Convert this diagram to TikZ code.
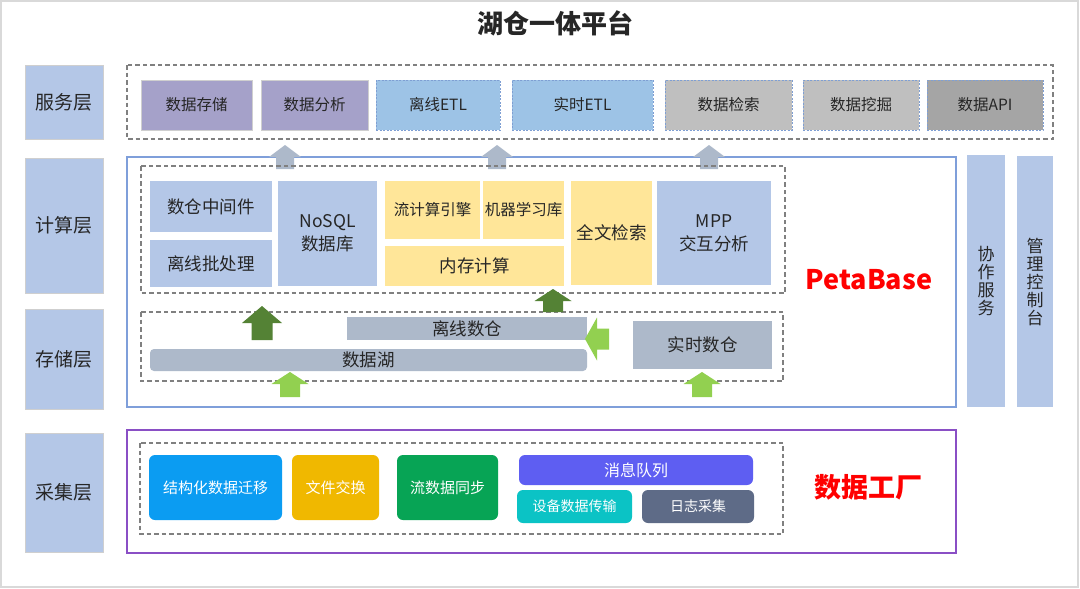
\documentclass[tikz,border=0pt]{standalone}
\usepackage{fontspec}
\setmainfont{Noto Sans CJK SC}
\usetikzlibrary{positioning}
\definecolor{layerblue}{HTML}{B4C7E7}
\definecolor{layerline}{HTML}{CFCFCF}
\definecolor{framegray}{HTML}{808080}
\definecolor{outergray}{HTML}{D9D9D9}
\definecolor{textdark}{HTML}{262626}
\definecolor{svcpurple}{HTML}{A5A1C9}
\definecolor{etlblue}{HTML}{9DC3E6}
\definecolor{srchgray}{HTML}{BFBFBF}
\definecolor{apigray}{HTML}{A5A5A5}
\definecolor{dashblue}{HTML}{7F9FD3}
\definecolor{memyellow}{HTML}{FFE699}
\definecolor{storegray}{HTML}{ADB9CA}
\definecolor{petablue}{HTML}{7F9FDA}
\definecolor{factpurple}{HTML}{8A4FC5}
\definecolor{darkgreen}{HTML}{548235}
\definecolor{litegreen}{HTML}{92D050}
\definecolor{migblue}{HTML}{0B9CF2}
\definecolor{filegold}{HTML}{F0B800}
\definecolor{streamgreen}{HTML}{07A455}
\definecolor{mqviolet}{HTML}{5E5EF2}
\definecolor{devteal}{HTML}{0BC3C5}
\definecolor{logslate}{HTML}{5E6B87}
\tikzset{box/.style={rectangle,inner sep=0pt,align=center,text=textdark,
                     font=\fontsize{17.5}{23}\selectfont},
         layer/.style={box,fill=layerblue,draw=layerline,line width=0.8pt,
                     minimum width=78pt,font=\fontsize{19}{21}\selectfont},
         svc/.style={box,minimum height=50pt,font=\fontsize{15.5}{17}\selectfont},
         svcsolid/.style={svc,fill=svcpurple,draw=layerline,line width=0.8pt},
         svcdash/.style={svc,draw=dashblue,line width=0.8pt,dashed,
                     dash pattern=on 2pt off 1.5pt},
         comp/.style={box,fill=layerblue},
         mem/.style={box,fill=memyellow},
         store/.style={box,fill=storegray},
         side/.style={box,fill=layerblue,font=\fontsize{17}{18}\selectfont},
         coll/.style={box,rounded corners=6pt,text=white,
                     font=\fontsize{15}{17}\selectfont},
         dashframe/.style={draw=framegray,line width=1.1pt,dashed,
                     dash pattern=on 4.5pt off 3pt},
         brand/.style={text=red,font=\fontsize{27}{30}\selectfont\bfseries},
         pics/blockup/.style args={#1/#2/#3/#4}{code={
             \path[pic actions] (-#1,0) -- (0,-#2) -- (#1,0) -- (#3,0)
                 -- (#3,#4) -- (-#3,#4) -- (-#3,0) -- cycle;}}}

\begin{document}
\begin{tikzpicture}[x=1pt,y=-1pt]
\useasboundingbox (0,0) rectangle (1080,589);
\fill[white] (0,0) rectangle (1080,589);
\draw[outergray,line width=1.5pt] (1,1) rectangle (1078,587);

% title
\node[text=textdark,font=\fontsize{26}{28}\selectfont\bfseries] (title) at (555,23) {湖仓一体平台};

% layer labels
\node[layer,minimum height=74pt]  (svcL) at (64,102)   {服务层};
\node[layer,minimum height=135pt] (cmpL) at (64,225.5) {计算层};
\node[layer,minimum height=100pt] (stoL) at (64,359)   {存储层};
\node[layer,minimum height=119pt] (colL) at (64,492.5) {采集层};

% service layer
\draw[dashframe] (127,65) rectangle (1053,139);
\node[svcsolid,minimum width=111pt] (store)   at (196.5,105) {数据存储};
\node[svcsolid,minimum width=107pt] (analyse) at (314.5,105) {数据分析};
\node[svcdash,fill=etlblue,minimum width=124pt]  (offetl) at (438,105)   {离线ETL};
\node[svcdash,fill=etlblue,minimum width=141pt]  (rtetl)  at (582.5,105) {实时ETL};
\node[svcdash,fill=srchgray,minimum width=127pt] (search) at (728.5,105) {数据检索};
\node[svcdash,fill=srchgray,minimum width=116pt] (mining) at (861,105)   {数据挖掘};
\node[svcdash,fill=apigray,minimum width=116pt]  (api)    at (985,105)   {数据API};

% PetaBase
\draw[petablue,line width=1.2pt] (127,157) rectangle (956,407);
\pic[fill=storegray] (upA) at (285,157) {blockup={16/12/9/12}};
\pic[fill=storegray] (upB) at (497,157) {blockup={16/12/9/12}};
\pic[fill=storegray] (upC) at (709,157) {blockup={16/12/9/12}};
\draw[dashframe] (141,166) rectangle (785,293);
\node[comp,minimum width=122pt,minimum height=51pt]  (dwmid)  at (211,206.5)   {数仓中间件};
\node[comp,minimum width=122pt,minimum height=47pt]  (batch)  at (211,263.5)   {离线批处理};
\node[comp,minimum width=99pt,minimum height=105pt]  (nosql)  at (327.5,233.5) {NoSQL\\数据库};
\node[mem,minimum width=95pt,minimum height=58pt,font=\fontsize{15.5}{17}\selectfont]
     (stream) at (432.5,210) {流计算引擎};
\node[mem,minimum width=81pt,minimum height=58pt,font=\fontsize{15.5}{17}\selectfont]
     (mlib)   at (523.5,210) {机器学习库};
\node[mem,minimum width=179pt,minimum height=40pt]   (memc)   at (474.5,266)   {内存计算};
\node[mem,minimum width=81pt,minimum height=104pt]   (fts)    at (611.5,233)   {全文检索};
\node[comp,minimum width=114pt,minimum height=104pt] (mpp)    at (714,233)     {MPP\\交互分析};
\node[brand] (peta) at (869,280) {PetaBase};

% storage
\draw[dashframe] (141,312) rectangle (783,381);
\node[store,minimum width=240pt,minimum height=23pt] (offdw) at (467,328.5) {离线数仓};
\node[store,minimum width=437pt,minimum height=22pt,rounded corners=4pt] (lake) at (368.5,360) {数据湖};
\node[store,minimum width=139pt,minimum height=48pt] (rtdw)  at (702.5,345) {实时数仓};
\pic[fill=darkgreen] (upD) at (262,323) {blockup={20/17/10.5/17}};
\pic[fill=darkgreen] (upE) at (553,301) {blockup={18.5/12/10/11}};
\pic[fill=litegreen] (upF) at (290,384) {blockup={18.5/12/10/13}};
\pic[fill=litegreen] (upG) at (702,384) {blockup={18.5/12/10/13}};
\pic[fill=litegreen,rotate=90] (leftH) at (597,339) {blockup={21.5/12/10.5/12}};

% side columns
\node[side,minimum width=38pt,minimum height=252pt] (coop) at (986,281)    {协\\作\\服\\务};
\node[side,minimum width=36pt,minimum height=251pt] (mgmt) at (1035,281.5) {管\\理\\控\\制\\台};

% collection
\draw[factpurple,line width=1.2pt] (127,430) rectangle (956,553);
\draw[dashframe] (140,443) rectangle (783,534);
\node[coll,fill=migblue,minimum width=133pt,minimum height=65pt]     (migr) at (215.5,487.5) {结构化数据迁移};
\node[coll,fill=filegold,minimum width=87pt,minimum height=65pt]     (fex)  at (335.5,487.5) {文件交换};
\node[coll,fill=streamgreen,minimum width=101pt,minimum height=65pt] (ssync) at (447.5,487.5) {流数据同步};
\node[coll,fill=mqviolet,minimum width=234pt,minimum height=30pt,font=\fontsize{16}{18}\selectfont]
     (mq)   at (636,470)   {消息队列};
\node[coll,fill=devteal,minimum width=115pt,minimum height=33pt,font=\fontsize{14}{16}\selectfont]
     (dev)  at (574.5,506.5) {设备数据传输};
\node[coll,fill=logslate,minimum width=112pt,minimum height=33pt,font=\fontsize{14}{16}\selectfont]
     (logc) at (698,506.5)   {日志采集};
\node[brand] (factory) at (868,487) {数据工厂};
\end{tikzpicture}
\end{document}
